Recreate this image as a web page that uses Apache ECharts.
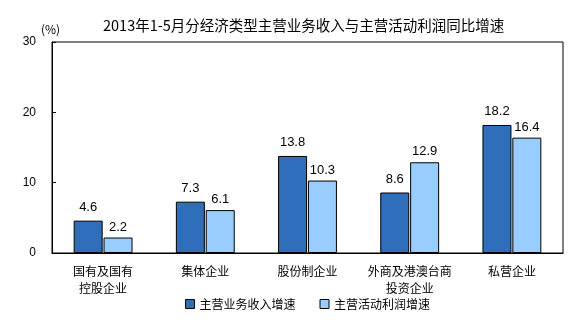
<!DOCTYPE html>
<html><head><meta charset="utf-8">
<script src="https://cdn.jsdelivr.net/npm/echarts@6/dist/echarts.min.js"></script>
<style>html,body{margin:0;padding:0;background:#fff}#c{width:587px;height:323px}</style>
</head><body><div id="c"></div>
<script>
var categories = ['国有及国有\n控股企业', '集体企业', '股份制企业', '外商及港澳台商\n投资企业', '私营企业'];
var revenueGrowth = [4.6, 7.3, 13.8, 8.6, 18.2];
var profitGrowth = [2.2, 6.1, 10.3, 12.9, 16.4];
var seriesNames = ['主营业务收入增速', '主营活动利润增速'];
var yTicks = [0, 10, 20, 30];

var font = '"Noto Sans CJK SC", "DejaVu Sans", sans-serif';
var numFont = '"Liberation Sans", Arial, sans-serif';
var chart = echarts.init(document.getElementById('c'));
chart.setOption({
  animation: false,
  title: {text: '2013年1-5月分经济类型主营业务收入与主营活动利润同比增速', left: 98, top: 13,
    textStyle: {fontSize: 14.5, fontWeight: 'normal', color: '#000', fontFamily: font}},
  graphic: [{type: 'text', left: 41, top: 23, style: {text: '(%)', fontSize: 12, fill: '#000', fontFamily: font}}],
  legend: {bottom: 8, left: 180, itemWidth: 9, itemHeight: 9, itemGap: 24,
    textStyle: {fontSize: 12, color: '#000', fontFamily: font},
    data: seriesNames.map(function(n){return {name:n, icon:'rect', itemStyle:{borderColor:'#000', borderWidth:1}};})},
  grid: {left: 52, right: 24, top: 42, bottom: 70, show: true, borderColor: '#000', borderWidth: 1},
  xAxis: {type: 'category', data: categories,
    axisLine: {lineStyle: {color: '#000'}}, axisTick: {show: false},
    axisLabel: {color: '#000', fontSize: 12, fontFamily: font, margin: 10, lineHeight: 17, interval: 0}},
  yAxis: {type: 'value', min: yTicks[0], max: yTicks[yTicks.length-1], interval: 10,
    axisLine: {show: true, lineStyle: {color: '#000'}},
    axisTick: {show: true, inside: true, length: 4, lineStyle: {color: '#000'}},
    splitLine: {show: false},
    axisLabel: {color: '#000', fontSize: 12, fontFamily: numFont, margin: 16}},
  series: [
    {name: seriesNames[0], type: 'bar', data: revenueGrowth, barWidth: 29, barGap: '3%',
      itemStyle: {color: '#2F6EBA', borderColor: '#000', borderWidth: 1},
      label: {show: true, position: 'top', distance: 7, color: '#000', fontSize: 13, fontFamily: numFont}},
    {name: seriesNames[1], type: 'bar', data: profitGrowth, barWidth: 29,
      itemStyle: {color: '#99CCFF', borderColor: '#000', borderWidth: 1},
      label: {show: true, position: 'top', distance: 4, color: '#000', fontSize: 13, fontFamily: numFont}}
  ]
});
</script></body></html>
